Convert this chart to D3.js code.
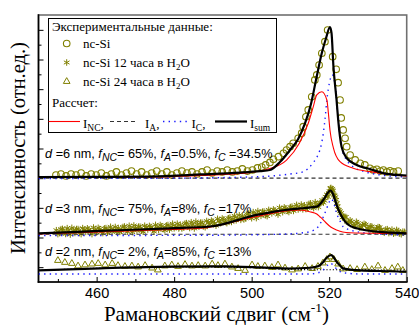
<!DOCTYPE html>
<html>
<head>
<meta charset="utf-8">
<script src="https://cdn.jsdelivr.net/npm/d3@7"></script>
<style>
  html, body { margin: 0; padding: 0; background: #fff; }
  svg { display: block; }
</style>
</head>
<body>
<svg id="chart" width="419" height="325"></svg>
<script>
// ---- Axis ticks -------------------------------------------------------
const xMajorTicks = [460, 480, 500, 520, 540];
const xMinorTicks = [450, 470, 490, 510, 530];
const yMajorTicks = [1, 3, 5, 7, 9, 11, 13, 15, 17];
const yMinorTicks = [2, 4, 6, 8, 10, 12, 14, 16];

// ---- Measured spectra: [Raman shift, intensity (offset, arb. units)] ----
// nc-Si (as prepared)
const ncSi = [
  [449.5,7.21],[450.8,7.28],[452.1,7.15],[453.4,7.28],[454.7,7.21],[456.0,7.35],[457.3,7.15],
  [458.6,7.28],[459.9,7.21],[461.2,7.35],[462.5,7.15],[463.8,7.28],[465.1,7.42],[466.4,7.21],
  [467.7,7.35],[469.0,7.48],[470.3,7.28],[471.6,7.42],[472.9,7.21],[474.2,7.35],[475.5,7.48],
  [476.8,7.28],[478.1,7.42],[479.4,7.21],[480.7,7.35],[482.0,7.48],[483.3,7.35],[484.6,7.42],
  [485.9,7.28],[487.2,7.42],[488.5,7.55],[489.8,7.35],[491.1,7.48],[492.4,7.42],[493.7,7.55],
  [495.0,7.42],[496.3,7.48],[497.6,7.62],[498.9,7.48],[500.2,7.55],[501.5,7.69],[502.6,7.75],
  [503.6,7.89],[504.7,8.06],[505.6,8.27],[506.9,8.45],[508.2,8.68],[509.0,8.90],[509.9,9.12],
  [510.7,9.35],[512.0,9.69],[512.9,10.03],[513.3,10.47],[514.0,11.14],[514.6,11.60],[515.5,12.49],
  [516.3,13.62],[516.8,13.96],[517.4,14.63],[518.1,15.42],[518.9,16.20],[519.6,16.99],[520.9,15.19],
  [521.8,14.34],[522.3,13.44],[522.8,12.27],[523.1,11.06],[523.6,10.25],[524.1,9.69],[524.5,9.12],
  [525.4,8.56],[526.7,8.23],[528.0,8.00],[529.2,7.89],[530.5,7.67],[531.4,7.55],[532.3,7.60],
  [533.2,7.48],[534.0,7.55],[534.9,7.42],[535.7,7.50],[536.6,7.42],[537.8,7.48]
];

// nc-Si after 12 h in H2O
const ncSi12h = [
  [449.6,3.49],[450.4,3.30],[451.2,3.58],[452.0,3.24],[452.8,3.45],[453.6,3.65],[454.4,3.31],
  [455.2,3.57],[456.0,3.23],[456.8,3.51],[457.6,3.62],[458.4,3.40],[459.2,3.67],[460.0,3.34],
  [460.8,3.57],[461.6,3.30],[462.4,3.63],[463.2,3.51],[464.0,3.40],[464.8,3.71],[465.6,3.64],
  [466.4,3.45],[467.2,3.74],[468.0,3.39],[468.8,3.60],[469.6,3.81],[470.4,3.47],[471.2,3.73],
  [472.0,3.39],[472.8,3.68],[473.6,3.78],[474.4,3.57],[475.2,3.85],[476.0,3.52],[476.8,3.76],
  [477.6,3.49],[478.4,3.84],[479.2,3.72],[480.0,3.62],[480.8,3.93],[481.6,3.86],[482.4,3.68],
  [483.2,3.97],[484.0,3.64],[484.8,3.85],[485.6,4.07],[486.4,3.73],[487.2,4.00],[488.0,3.69],
  [488.8,4.00],[489.6,4.14],[490.4,3.95],[491.2,4.26],[492.0,3.96],[492.8,4.21],[493.6,3.97],
  [494.4,4.34],[495.2,4.25],[496.0,4.16],[496.8,4.50],[497.6,4.46],[498.4,4.29],[499.2,4.61],
  [500.0,4.30],[500.8,4.54],[501.6,4.78],[502.4,4.46],[503.2,4.75],[504.0,4.44],[504.8,4.76],
  [505.6,4.89],[506.4,4.70],[507.2,5.01],[508.0,4.71],[508.8,4.96],[509.6,4.72],[510.4,5.08],
  [511.2,4.98],[512.0,4.89],[512.8,5.22],[513.6,5.17],[514.4,4.99],[515.2,5.30],[516.0,4.98],
  [516.8,5.21],[517.6,5.32],[518.2,5.52],[518.8,5.48],[519.4,5.90],[519.9,5.98],[520.3,6.31],
  [520.6,6.20],[521.0,6.16],[521.4,5.82],[521.8,5.54],[522.2,5.10],[522.8,4.77],[523.4,4.35],
  [524.0,4.39],[524.6,4.07],[525.4,4.16],[526.2,3.82],[527.0,4.06],[527.8,3.68],[528.6,3.84],
  [529.4,3.87],[530.2,3.56],[531.0,3.74],[531.8,3.44],[532.6,3.70],[533.4,3.52],[534.2,3.32],
  [535.0,3.56],[535.8,3.41],[536.6,3.26],[537.4,3.51],[538.2,3.26],[539.0,3.39],
  [450.0,3.23],[450.8,3.56],[451.6,3.37],[452.4,3.63],[453.2,3.20],[454.0,3.47],[454.8,3.57],
  [455.6,3.30],[456.4,3.63],[457.2,3.38],[458.0,3.54],[458.8,3.23],[459.6,3.50],[460.4,3.65],
  [461.2,3.38],[462.0,3.61],[462.8,3.33],[463.6,3.72],[464.4,3.51],[465.2,3.38],[466.0,3.38],
  [466.8,3.71],[467.6,3.52],[468.4,3.79],[469.2,3.36],[470.0,3.63],[470.8,3.73],[471.6,3.46],
  [472.4,3.79],[473.2,3.54],[474.0,3.71],[474.8,3.40],[475.6,3.68],[476.4,3.84],[477.2,3.57],
  [478.0,3.81],[478.8,3.53],[479.6,3.93],[480.4,3.72],[481.2,3.61],[482.0,3.61],[482.8,3.94],
  [483.6,3.76],[484.4,4.03],[485.2,3.61],[486.0,3.88],[486.8,4.00],[487.6,3.75],[488.4,4.11],
  [489.2,3.88],[490.0,4.08],[490.8,3.80],[491.6,4.10],[492.4,4.28],[493.2,4.04],[494.0,4.30],
  [494.8,4.05],[495.6,4.46],[496.4,4.28],[497.2,4.19],[498.0,4.22],[498.8,4.57],[499.6,4.41],
  [500.4,4.71],[501.2,4.31],[502.0,4.60],[502.8,4.74],[503.6,4.50],[504.4,4.86],[505.2,4.63],
  [506.0,4.83],[506.8,4.55],[507.6,4.85],[508.4,5.03],[509.2,4.79],[510.0,5.05],[510.8,4.79],
  [511.6,5.20],[512.4,5.00],[513.2,4.90],[514.0,4.92],[514.8,5.27],[515.6,5.10],[516.4,5.38],
  [517.2,5.05],[517.9,5.33],[518.5,5.35],[519.1,5.74],[519.65,5.74],[520.1,6.12],[520.45,6.34],
  [520.8,6.27],[521.2,5.88],[521.6,5.72],[522.0,5.31],[522.5,4.86],[523.1,4.65],[523.7,4.40],
  [524.3,4.38],[525.0,4.03],[525.8,4.05],[526.6,3.79],[527.4,3.97],[528.2,3.70],[529.0,3.92],
  [529.8,3.64],[530.6,3.75],[531.4,3.45],[532.2,3.62],[533.0,3.69],[533.8,3.40],[534.6,3.54],
  [535.4,3.30],[536.2,3.53],[537.0,3.31],[537.8,3.44],[538.6,3.22],[539.4,3.38]
];

// nc-Si after 24 h in H2O
const ncSi24h = [
  [450.0,1.45],[451.8,1.32],[453.6,1.25],[455.2,1.08],[457.0,1.15],[458.8,1.21],[460.4,1.25],
  [462.2,1.15],[464.0,1.25],[465.5,1.11],[467.3,1.05],[469.1,1.08],[470.7,1.01],[472.5,1.11],
  [474.3,0.94],[475.8,0.81],[477.6,1.08],[479.4,1.15],[481.0,1.05],[482.8,1.18],[484.6,1.08],
  [486.2,1.11],[488.0,1.08],[489.8,1.21],[491.3,1.11],[493.1,1.21],[494.9,1.01],[496.5,0.91],
  [498.3,0.78],[500.1,1.15],[501.6,1.05],[503.4,1.08],[505.2,0.98],[506.8,1.15],[508.6,0.94],
  [510.4,0.81],[512.0,0.88],[513.8,1.05],[515.6,0.91],[517.1,1.05],[518.4,1.28],[519.4,1.52],
  [520.2,1.69],[521.2,1.52],[522.3,1.21],[523.6,0.88],[525.4,0.91],[527.2,0.84],[529.2,1.01],
  [531.0,0.84],[532.6,1.08],[534.4,0.78],[536.2,0.91],[537.7,1.01],[539.0,0.78]
];

// ---- Calculated contributions -------------------------------------------
const nc6Sum = [
  [445.0,7.08],[460.0,7.09],[474.0,7.11],[487.0,7.25],[497.0,7.38],[502.2,7.48],[504.7,7.55],
  [507.3,8.09],[509.9,8.90],[512.0,9.64],[513.8,10.72],[515.3,12.00],[516.6,13.62],[518.1,15.44],
  [519.2,16.45],[520.2,17.19],[520.6,16.79],[521.1,14.52],[521.9,12.27],[522.3,11.00],[523.2,9.12],
  [524.5,8.36],[527.1,7.89],[530.5,7.62],[534.4,7.31],[540.0,7.18]
];
const nc6NC = [
  [445.0,7.05],[474.0,7.08],[486.7,7.18],[497.0,7.31],[504.7,7.65],[509.0,8.22],[512.3,9.35],
  [514.6,10.70],[515.9,11.82],[516.8,12.61],[518.1,12.83],[519.4,12.27],[519.8,11.37],[520.2,10.25],
  [521.1,9.03],[522.8,8.11],[526.2,7.67],[530.5,7.44],[540.0,7.14]
];
const nc6C = [
  [445.0,6.98],[473.8,6.99],[499.6,7.08],[509.9,7.28],[513.2,7.42],[515.8,8.02],[517.1,8.56],
  [517.6,8.90],[518.5,10.05],[518.9,10.92],[519.4,12.27],[520.1,13.48],[520.8,13.96],[521.3,13.62],
  [521.7,12.94],[522.1,11.60],[522.6,10.25],[523.4,8.90],[524.5,8.22],[526.3,7.75],[529.4,7.42],
  [533.3,7.21],[540.0,7.08]
];
const nc6A = [[445.0,7.00],[540.0,7.00]];

const nc3Sum = [
  [445.0,3.28],[460.9,3.44],[478.9,3.62],[489.2,3.74],[501.3,4.52],[509.9,4.90],[513.8,4.99],
  [516.8,5.08],[517.9,5.33],[518.8,5.66],[519.6,6.00],[520.3,6.17],[521.0,5.93],[521.5,5.53],
  [522.1,5.06],[522.8,4.63],[524.1,4.07],[525.4,3.78],[527.1,3.62],[532.3,3.39],[540.0,3.28]
];
const nc3NC = [
  [445.0,3.24],[460.9,3.37],[478.9,3.54],[486.7,3.62],[501.3,4.42],[509.9,4.82],[512.5,4.85],
  [515.0,4.74],[516.8,4.58],[517.6,4.40],[518.4,4.21],[519.3,3.96],[520.4,3.71],[521.9,3.51],
  [523.5,3.37],[525.4,3.32],[533.1,3.28],[540.0,3.27]
];
const nc3C = [
  [445.0,3.13],[486.7,3.15],[507.3,3.22],[513.3,3.32],[515.0,3.39],[517.2,3.73],[518.5,4.40],
  [519.2,4.85],[519.8,5.26],[520.5,5.60],[521.1,5.39],[521.9,4.63],[522.8,4.11],[523.6,3.73],
  [525.4,3.51],[527.1,3.39],[533.1,3.24],[540.0,3.17]
];
const nc3A = [[445.0,3.22],[540.0,3.22]];

const nc2Sum = [
  [445.0,0.78],[460.9,0.92],[478.9,1.04],[491.8,1.06],[502.2,0.99],[509.9,0.91],[515.0,0.96],
  [517.3,1.08],[518.5,1.37],[519.4,1.65],[520.6,1.82],[521.1,1.69],[521.9,1.37],[522.8,1.11],
  [523.6,0.92],[525.4,0.84],[527.1,0.80],[533.1,0.74],[540.0,0.69]
];
const nc2C = [
  [445.0,0.54],[514.9,0.54],[517.0,0.61],[518.3,0.78],[519.4,1.08],[520.3,1.28],[521.2,1.08],
  [522.3,0.78],[524.1,0.61],[527.9,0.54],[540.0,0.54]
];
const nc2A = [[445.0,0.78],[479.0,1.02],[500.0,0.97],[510.0,0.84],[540.0,0.81]];

// ---- Text -------------------------------------------------------------
const yTitle = "Интенсивность (отн.ед.)";
const xTitle = "Рамановский сдвиг (см";
const xTitleSup = "-1";
const legendHeadData = "Экспериментальные данные:";
const legendHeadCalc = "Рассчет:";
const seriesNames = ["nc-Si", "nc-Si 12 часа в H", "nc-Si 24 часа в H"];
// model parameters for each spectrum: size, NC, amorphous and crystalline fractions
const fitSizes = ["6", "3", "2"];
const fitNC = ["65%", "75%", "2%"];
const fitA = ["0.5%", "8%", "85%"];
const fitC = ["34.5%", "17%", "13%"];

// ---- Layout -------------------------------------------------------------
const svg = d3.select("#chart");
const plot = { left: 38.5, right: 406.7, top: 15, bottom: 282 };
const olive = "#808000";

const x = d3.scaleLinear().domain([445, 540]).range([plot.left, plot.right]);
const y = d3.scaleLinear().domain([0, 18]).range([plot.bottom, plot.top]);

svg.append("rect").attr("width", 419).attr("height", 325).attr("fill", "#fff");

svg.append("clipPath").attr("id", "plotClip")
  .append("rect")
  .attr("x", plot.left).attr("y", plot.top)
  .attr("width", plot.right - plot.left).attr("height", plot.bottom - plot.top);

// frame (top/right in grey)
svg.append("rect")
  .attr("x", plot.left).attr("y", plot.top)
  .attr("width", plot.right - plot.left).attr("height", plot.bottom - plot.top)
  .attr("fill", "none").attr("stroke", "#707070").attr("stroke-width", 1.6);

// ---- Axes (ticks point inward) ------------------------------------------
function styleAxis(g) {
  g.select(".domain").remove();
  g.selectAll(".tick line").attr("stroke", "#000").attr("stroke-width", 1);
  g.selectAll(".tick text")
    .attr("font-family", "'Liberation Sans', Arial, sans-serif")
    .attr("font-size", 14.5).attr("fill", "#000");
}

svg.append("g").attr("transform", `translate(0,${plot.bottom})`)
  .call(d3.axisBottom(x).tickValues(xMinorTicks).tickSizeInner(-3).tickSizeOuter(0).tickFormat(""))
  .call(styleAxis);
svg.append("g").attr("transform", `translate(0,${plot.bottom})`)
  .call(d3.axisBottom(x).tickValues(xMajorTicks).tickSizeInner(-5).tickSizeOuter(0).tickPadding(5.7).tickFormat(d3.format("d")))
  .call(styleAxis);
svg.append("g").attr("transform", `translate(${plot.left},0)`)
  .call(d3.axisLeft(y).tickValues(yMinorTicks).tickSizeInner(-3).tickSizeOuter(0).tickFormat(""))
  .call(styleAxis);
svg.append("g").attr("transform", `translate(${plot.left},0)`)
  .call(d3.axisLeft(y).tickValues(yMajorTicks).tickSizeInner(-5).tickSizeOuter(0).tickFormat(""))
  .call(styleAxis);

// left and bottom axis lines in black
svg.append("line").attr("x1", plot.left).attr("x2", plot.left)
  .attr("y1", plot.top - 0.8).attr("y2", plot.bottom + 0.8)
  .attr("stroke", "#000").attr("stroke-width", 1.6);
svg.append("line").attr("x1", plot.left - 0.8).attr("x2", plot.right + 0.8)
  .attr("y1", plot.bottom).attr("y2", plot.bottom)
  .attr("stroke", "#000").attr("stroke-width", 1.6);

// ---- Data markers -------------------------------------------------------
const data = svg.append("g").attr("clip-path", "url(#plotClip)");
const starPath = d3.symbol(d3.symbolAsterisk, 30)();
const triPath = d3.symbol(d3.symbolTriangle2, 32)();

data.append("g").selectAll("circle").data(ncSi).join("circle")
  .attr("cx", d => x(d[0])).attr("cy", d => y(d[1])).attr("r", 3.3)
  .attr("fill", "none").attr("stroke", olive).attr("stroke-width", 1.1);

data.append("g").selectAll("path").data(ncSi12h).join("path")
  .attr("d", starPath)
  .attr("transform", d => `translate(${x(d[0])},${y(d[1])})`)
  .attr("fill", "none").attr("stroke", olive).attr("stroke-width", 1);

data.append("g").selectAll("path").data(ncSi24h).join("path")
  .attr("d", triPath)
  .attr("transform", d => `translate(${x(d[0])},${y(d[1])})`)
  .attr("fill", "none").attr("stroke", olive).attr("stroke-width", 1);

// ---- Calculated curves --------------------------------------------------
const line = d3.line().x(d => x(d[0])).y(d => y(d[1])).curve(d3.curveMonotoneX);
const styles = {
  A:   { stroke: "#333", width: 1.1, dash: "4,3" },
  A2:  { stroke: "#000", width: 1.1, dash: "1.2,2" },
  C:   { stroke: "#1a1aff", width: 1.4, dash: "1.4,4.2" },
  NC:  { stroke: "#ff0000", width: 1.1, dash: null },
  sum: { stroke: "#000", width: 2.2, dash: null }
};
const curves = [
  [nc6A, "A"], [nc3A, "A"], [nc2A, "A2"],
  [nc6C, "C"], [nc3C, "C"], [nc2C, "C"],
  [nc6NC, "NC"], [nc3NC, "NC"],
  [nc6Sum, "sum"], [nc3Sum, "sum"], [nc2Sum, "sum"]
];
curves.forEach(([pts, kind]) => {
  const s = styles[kind];
  data.append("path").attr("d", line(pts))
    .attr("fill", "none").attr("stroke", s.stroke).attr("stroke-width", s.width)
    .attr("stroke-dasharray", s.dash).attr("stroke-linejoin", "round");
});

// ---- Fit parameter labels ---------------------------------------------
const noteFont = "'Liberation Sans', Arial, sans-serif";
const noteY = [8.33, 4.62, 1.72];
fitSizes.forEach((d, i) => {
  const t = svg.append("text")
    .attr("x", x(446.7)).attr("y", y(noteY[i]))
    .attr("font-family", noteFont).attr("font-size", 12.7).attr("fill", "#000");
  const seg = (txt, opts = {}) => {
    const ts = t.append("tspan").text(txt);
    if (opts.it) ts.attr("font-style", "italic");
    if (opts.sub) ts.attr("font-size", 10.5).attr("dy", 3);
    if (opts.back) ts.attr("dy", -3);
    return ts;
  };
  seg("d", { it: true });
  seg(" =" + d + " nm, ");
  seg("f", { it: true }); seg("NC", { it: true, sub: true });
  seg("= " + fitNC[i] + ", ", { back: true });
  seg("f", { it: true }); seg("A", { it: true, sub: true });
  seg("=" + fitA[i] + ", ", { back: true });
  seg("f", { it: true }); seg("C", { it: true, sub: true });
  seg(" =" + fitC[i], { back: true });
});

// ---- Legend -------------------------------------------------------------
const serif = "'Liberation Serif', 'Times New Roman', serif";
const lg = svg.append("g");
lg.append("rect").attr("x", 48.5).attr("y", 18.5).attr("width", 228).attr("height", 114)
  .attr("fill", "#fff").attr("stroke", "#000").attr("stroke-width", 1);

const ltext = (xx, yy, s) => lg.append("text").attr("x", xx).attr("y", yy)
  .attr("font-family", serif).attr("font-size", 13).attr("fill", "#000").text(s);

ltext(52, 31, legendHeadData);
lg.append("circle").attr("cx", 66.7).attr("cy", 43.5).attr("r", 3.3)
  .attr("fill", "none").attr("stroke", olive).attr("stroke-width", 1.1);
lg.append("path").attr("d", starPath).attr("transform", "translate(66.7,62.5)")
  .attr("fill", "none").attr("stroke", olive).attr("stroke-width", 1);
lg.append("path").attr("d", triPath).attr("transform", "translate(66.7,81.5)")
  .attr("fill", "none").attr("stroke", olive).attr("stroke-width", 1);

ltext(83, 48, seriesNames[0]);
[67, 86].forEach((yy, i) => {
  const t = ltext(83, yy, seriesNames[i + 1]);
  t.append("tspan").attr("font-size", 9).attr("dy", 3).text("2");
  t.append("tspan").attr("dy", -3).text("O");
});
ltext(52, 106.5, legendHeadCalc);

const keyY = 121.5;
const keyItems = [
  { kind: "NC", x1: 48.5, x2: 80, tx: 83, sub: "NC" },
  { kind: "A", x1: 110, x2: 138, tx: 145, sub: "A" },
  { kind: "C", x1: 163, x2: 188, tx: 191.5, sub: "C" },
  { kind: "sum", x1: 215, x2: 247, tx: 250, sub: "sum" }
];
keyItems.forEach((k, i) => {
  const s = styles[k.kind];
  lg.append("line").attr("x1", k.x1).attr("x2", k.x2).attr("y1", keyY).attr("y2", keyY)
    .attr("stroke", s.stroke).attr("stroke-width", s.width).attr("stroke-dasharray", s.dash);
  const t = ltext(k.tx, 127.5, "I");
  t.append("tspan").attr("font-size", 9.5).attr("dy", 3).text(k.sub);
  if (i < keyItems.length - 1) t.append("tspan").attr("dy", -3).text(",");
});

// ---- Axis titles -------------------------------------------------------
svg.append("text")
  .attr("transform", "translate(25,148) rotate(-90)")
  .attr("text-anchor", "middle")
  .attr("font-family", serif).attr("font-size", 20.5).attr("fill", "#000")
  .text(yTitle);

const xt = svg.append("text")
  .attr("x", 216.5).attr("y", 320.5)
  .attr("text-anchor", "middle")
  .attr("font-family", serif).attr("font-size", 21).attr("fill", "#000")
  .text(xTitle);
xt.append("tspan").attr("font-size", 13.5).attr("dy", -8.5).text(xTitleSup);
xt.append("tspan").attr("dy", 8.5).text(")");
</script>
</body>
</html>
